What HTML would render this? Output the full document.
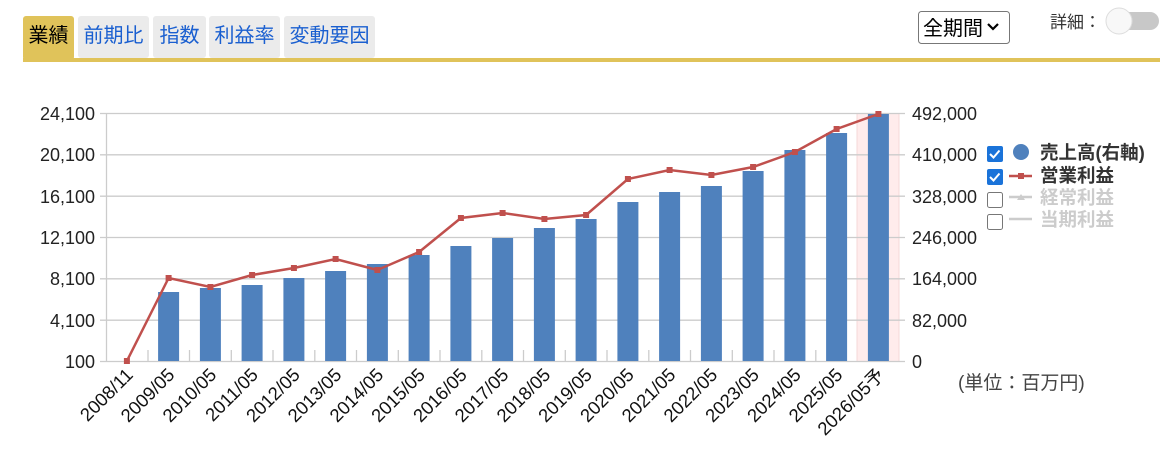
<!DOCTYPE html>
<html><head><meta charset="utf-8"><style>
body{margin:0;width:1170px;height:450px;background:#fff;font-family:"Liberation Sans","Noto Sans CJK JP",sans-serif;overflow:hidden}
</style></head><body>
<svg width="1170" height="450" xmlns="http://www.w3.org/2000/svg" font-family="Liberation Sans, Noto Sans CJK JP, sans-serif">
<rect x="23" y="16" width="51" height="44" rx="3" fill="#e0c35a"/>
<text x="48.5" y="42" font-size="20" text-anchor="middle" fill="#000">業績</text>
<rect x="78" y="16" width="71" height="42" rx="3" fill="#ebebeb"/>
<text x="113.5" y="42" font-size="20" text-anchor="middle" fill="#1a5fd0">前期比</text>
<rect x="153" y="16" width="53" height="42" rx="3" fill="#ebebeb"/>
<text x="179.5" y="42" font-size="20" text-anchor="middle" fill="#1a5fd0">指数</text>
<rect x="209" y="16" width="71" height="42" rx="3" fill="#ebebeb"/>
<text x="244.5" y="42" font-size="20" text-anchor="middle" fill="#1a5fd0">利益率</text>
<rect x="284" y="16" width="91" height="42" rx="3" fill="#ebebeb"/>
<text x="329.5" y="42" font-size="20" text-anchor="middle" fill="#1a5fd0">変動要因</text>
<rect x="23" y="58" width="1137" height="4" fill="#e0c35a"/>
<rect x="918.5" y="11.5" width="91" height="32" rx="3" fill="#fff" stroke="#777"/>
<text x="923" y="35" font-size="20" fill="#000">全期間</text>
<path d="M988 24 l5 5 l5 -5" stroke="#000" stroke-width="2.2" fill="none"/>
<text x="1050" y="28" font-size="17" fill="#333">詳細：</text>
<rect x="1107" y="12" width="52" height="18" rx="9" fill="#c8c8c8"/>
<circle cx="1119" cy="21" r="13" fill="#f8f8f8" stroke="#ddd"/>
<rect x="857" y="113" width="42" height="248" fill="#ffecec"/>
<line x1="857" y1="113" x2="857" y2="361" stroke="#f4d8d8"/>
<line x1="899" y1="113" x2="899" y2="361" stroke="#f4d8d8"/>
<g stroke="#ccc" stroke-width="1.3">
<line x1="100" y1="113.5" x2="905" y2="113.5"/>
<line x1="100" y1="154.8" x2="905" y2="154.8"/>
<line x1="100" y1="196.2" x2="905" y2="196.2"/>
<line x1="100" y1="237.5" x2="905" y2="237.5"/>
<line x1="100" y1="278.8" x2="905" y2="278.8"/>
<line x1="100" y1="320.2" x2="905" y2="320.2"/>
<line x1="100" y1="361.5" x2="905" y2="361.5"/>
<line x1="106.5" y1="113" x2="106.5" y2="361"/>
</g>
<g stroke="#ccc" stroke-width="1.3">
<line x1="148" y1="350" x2="148" y2="361"/><line x1="189.5" y1="350" x2="189.5" y2="361"/><line x1="231.3" y1="350" x2="231.3" y2="361"/><line x1="273" y1="350" x2="273" y2="361"/><line x1="314.8" y1="350" x2="314.8" y2="361"/><line x1="356.5" y1="350" x2="356.5" y2="361"/><line x1="398.3" y1="350" x2="398.3" y2="361"/><line x1="440" y1="350" x2="440" y2="361"/><line x1="481.8" y1="350" x2="481.8" y2="361"/><line x1="523.5" y1="350" x2="523.5" y2="361"/><line x1="565.3" y1="350" x2="565.3" y2="361"/><line x1="607" y1="350" x2="607" y2="361"/><line x1="648.8" y1="350" x2="648.8" y2="361"/><line x1="690.5" y1="350" x2="690.5" y2="361"/><line x1="732.3" y1="350" x2="732.3" y2="361"/><line x1="774" y1="350" x2="774" y2="361"/><line x1="815.8" y1="350" x2="815.8" y2="361"/>
</g>
<g fill="#4f81bd">
<rect x="158.1" y="292" width="21" height="69"/>
<rect x="199.9" y="288" width="21" height="73"/>
<rect x="241.6" y="285" width="21" height="76"/>
<rect x="283.4" y="278" width="21" height="83"/>
<rect x="325.1" y="271" width="21" height="90"/>
<rect x="366.9" y="264" width="21" height="97"/>
<rect x="408.6" y="255" width="21" height="106"/>
<rect x="450.4" y="246" width="21" height="115"/>
<rect x="492.1" y="238" width="21" height="123"/>
<rect x="533.9" y="228" width="21" height="133"/>
<rect x="575.6" y="219" width="21" height="142"/>
<rect x="617.4" y="202" width="21" height="159"/>
<rect x="659.1" y="192" width="21" height="169"/>
<rect x="700.9" y="186" width="21" height="175"/>
<rect x="742.6" y="171" width="21" height="190"/>
<rect x="784.4" y="150" width="21" height="211"/>
<rect x="826.1" y="133" width="21" height="228"/>
<rect x="867.9" y="114" width="21" height="247"/>
</g>
<polyline fill="none" stroke="#c0504d" stroke-width="2.5" points="126.9,361 168.6,278 210.4,287 252.1,275 293.9,268 335.6,259 377.4,270 419.1,252 460.9,218 502.6,213 544.4,219 586.1,215 627.9,179 669.6,170 711.4,175 753.1,167 794.9,152 836.6,129 878.4,114"/>
<g fill="#c0504d">
<rect x="123.9" y="358" width="6" height="6"/><rect x="165.6" y="275" width="6" height="6"/><rect x="207.4" y="284" width="6" height="6"/><rect x="249.1" y="272" width="6" height="6"/><rect x="290.9" y="265" width="6" height="6"/><rect x="332.6" y="256" width="6" height="6"/><rect x="374.4" y="267" width="6" height="6"/><rect x="416.1" y="249" width="6" height="6"/><rect x="457.9" y="215" width="6" height="6"/><rect x="499.6" y="210" width="6" height="6"/><rect x="541.4" y="216" width="6" height="6"/><rect x="583.1" y="212" width="6" height="6"/><rect x="624.9" y="176" width="6" height="6"/><rect x="666.6" y="167" width="6" height="6"/><rect x="708.4" y="172" width="6" height="6"/><rect x="750.1" y="164" width="6" height="6"/><rect x="791.9" y="149" width="6" height="6"/><rect x="833.6" y="126" width="6" height="6"/><rect x="875.4" y="111" width="6" height="6"/>
</g>
<g font-size="18" fill="#222" text-anchor="end">
<text x="95" y="120">24,100</text><text x="95" y="161">20,100</text><text x="95" y="203">16,100</text><text x="95" y="244">12,100</text><text x="95" y="285">8,100</text><text x="95" y="327">4,100</text><text x="95" y="368">100</text>
</g>
<g font-size="18" fill="#222">
<text x="912" y="120">492,000</text><text x="912" y="161">410,000</text><text x="912" y="203">328,000</text><text x="912" y="244">246,000</text><text x="912" y="285">164,000</text><text x="912" y="327">82,000</text><text x="912" y="368">0</text>
</g>
<text x="958" y="389" font-size="19" fill="#444">(単位：百万円)</text>
<g font-size="18.5" fill="#111" text-anchor="end">
<text transform="translate(134,376) rotate(-45)">2008/11</text>
<text transform="translate(175.7,376) rotate(-45)">2009/05</text>
<text transform="translate(217.5,376) rotate(-45)">2010/05</text>
<text transform="translate(259.2,376) rotate(-45)">2011/05</text>
<text transform="translate(301,376) rotate(-45)">2012/05</text>
<text transform="translate(342.7,376) rotate(-45)">2013/05</text>
<text transform="translate(384.5,376) rotate(-45)">2014/05</text>
<text transform="translate(426.2,376) rotate(-45)">2015/05</text>
<text transform="translate(468,376) rotate(-45)">2016/05</text>
<text transform="translate(509.7,376) rotate(-45)">2017/05</text>
<text transform="translate(551.5,376) rotate(-45)">2018/05</text>
<text transform="translate(593.2,376) rotate(-45)">2019/05</text>
<text transform="translate(635,376) rotate(-45)">2020/05</text>
<text transform="translate(676.7,376) rotate(-45)">2021/05</text>
<text transform="translate(718.5,376) rotate(-45)">2022/05</text>
<text transform="translate(760.2,376) rotate(-45)">2023/05</text>
<text transform="translate(802,376) rotate(-45)">2024/05</text>
<text transform="translate(843.7,376) rotate(-45)">2025/05</text>
<text transform="translate(885.5,376) rotate(-45)">2026/05予</text>
</g>
<rect x="987" y="146" width="16" height="16" rx="2" fill="#1a73d9"/>
<path d="M990 154 l3.5 3.5 l6 -7" stroke="#fff" stroke-width="2" fill="none"/>
<rect x="987" y="169" width="16" height="16" rx="2" fill="#1a73d9"/>
<path d="M990 177 l3.5 3.5 l6 -7" stroke="#fff" stroke-width="2" fill="none"/>
<rect x="987.5" y="192.5" width="15" height="15" rx="2" fill="#fff" stroke="#777"/>
<rect x="987.5" y="214.5" width="15" height="15" rx="2" fill="#fff" stroke="#777"/>
<circle cx="1021" cy="152" r="8" fill="#4f81bd"/>
<line x1="1009" y1="176" x2="1032" y2="176" stroke="#c0504d" stroke-width="2.5"/>
<rect x="1018" y="173" width="6" height="6" fill="#c0504d"/>
<line x1="1009" y1="197" x2="1032" y2="197" stroke="#ccc" stroke-width="2.5"/>
<path d="M1017 200 l4 -6 l4 6z" fill="#ccc"/>
<line x1="1009" y1="219" x2="1032" y2="219" stroke="#ccc" stroke-width="2.5"/>
<g font-size="18.5" font-weight="bold">
<text x="1040" y="159" fill="#333">売上高(右軸)</text>
<text x="1040" y="182" fill="#333">営業利益</text>
<text x="1040" y="204" fill="#ccc">経常利益</text>
<text x="1040" y="226" fill="#ccc">当期利益</text>
</g>
</svg>
</body></html>
